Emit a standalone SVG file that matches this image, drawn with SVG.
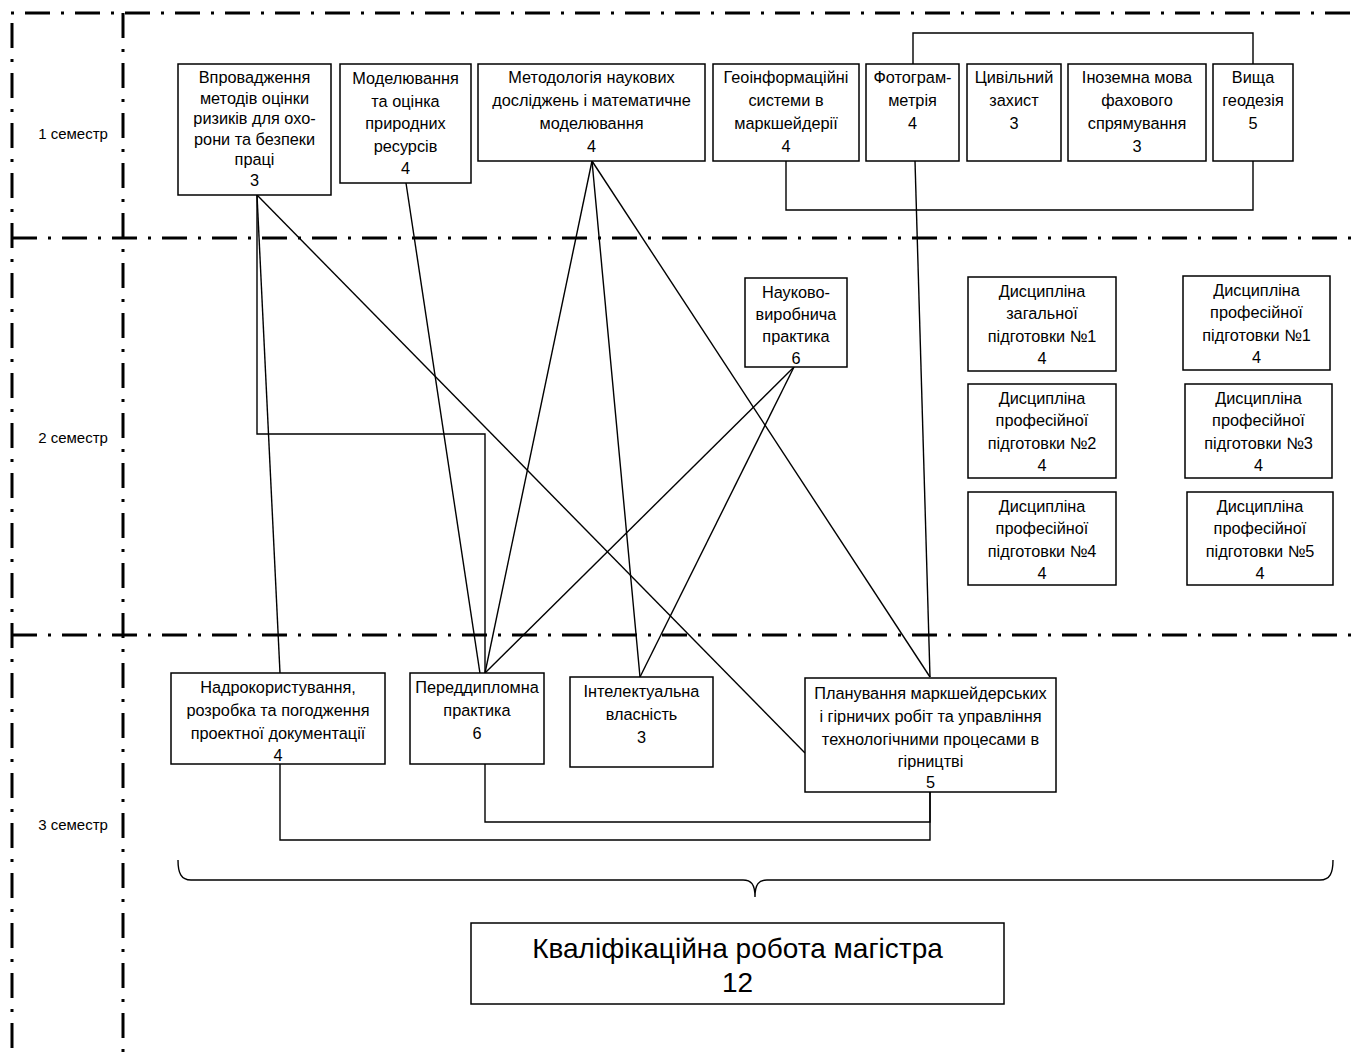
<svg xmlns="http://www.w3.org/2000/svg" width="1354" height="1052" viewBox="0 0 1354 1052">
<style>
.frame{fill:none;stroke:#000;stroke-width:3;stroke-dasharray:25 11 3 11}
.box{fill:#fff;stroke:#000;stroke-width:1.5}
.t{font-family:"Liberation Sans",Arial,sans-serif;font-size:16.3px;text-anchor:middle;dominant-baseline:central;fill:#000}
.sem{font-family:"Liberation Sans",Arial,sans-serif;font-size:15px;text-anchor:middle;dominant-baseline:central;fill:#000}
.big{font-family:"Liberation Sans",Arial,sans-serif;font-size:28px;text-anchor:middle;dominant-baseline:central;fill:#000}
.c{fill:none;stroke:#000;stroke-width:1.4}
</style>
<rect width="1354" height="1052" fill="#fff"/>
<g id="frame">
<line class="frame" x1="-25" y1="13" x2="1354" y2="13"/>
<line class="frame" x1="12" y1="23" x2="12" y2="1052"/>
<line class="frame" x1="123" y1="13" x2="123" y2="1052"/>
<line class="frame" x1="12" y1="238" x2="1354" y2="238"/>
<line class="frame" x1="12" y1="635" x2="1354" y2="635"/>
</g>
<g id="semesters">
<text class="sem" x="73" y="133">1 семестр</text>
<text class="sem" x="73" y="437">2 семестр</text>
<text class="sem" x="73" y="824">3 семестр</text>
</g>
<g id="connectors">
<line class="c" x1="257" y1="195" x2="280" y2="673"/>
<polyline class="c" points="257,195 257,434 485,434 485,673"/>
<line class="c" x1="257" y1="195" x2="805" y2="753"/>
<line class="c" x1="406" y1="183" x2="484" y2="700"/>
<line class="c" x1="592" y1="161" x2="485" y2="673"/>
<line class="c" x1="592" y1="161" x2="640" y2="677"/>
<line class="c" x1="592" y1="161" x2="930" y2="677"/>
<line class="c" x1="794" y1="367" x2="485" y2="673"/>
<line class="c" x1="794" y1="367" x2="640" y2="677"/>
<line class="c" x1="915" y1="161" x2="930" y2="677"/>
<polyline class="c" points="913,64 913,33 1253,33 1253,64"/>
<polyline class="c" points="786,161 786,210 1253,210 1253,161"/>
<polyline class="c" points="280,764 280,840 930,840 930,792"/>
<polyline class="c" points="485,764 485,822 930,822 930,792"/>
<path class="c" d="M178,860 C178,873 181,880 191,880 L743,880 C751,880 755,884 755,897 C755,884 759,880 767,880 L1320,880 C1330,880 1333,873 1333,860"/>
</g>
<g id="n1">
<rect class="box" x="178" y="64" width="153" height="131"/>
<text class="t" x="254.5" y="77">Впровадження</text>
<text class="t" x="254.5" y="97.6">методів оцінки</text>
<text class="t" x="254.5" y="118.2">ризиків для охо-</text>
<text class="t" x="254.5" y="138.8">рони та безпеки</text>
<text class="t" x="254.5" y="159.4">праці</text>
<text class="t" x="254.5" y="180">3</text>
</g>
<g id="n2">
<rect class="box" x="340" y="64" width="131" height="119"/>
<text class="t" x="405.5" y="78">Моделювання</text>
<text class="t" x="405.5" y="100.5">та оцінка</text>
<text class="t" x="405.5" y="123">природних</text>
<text class="t" x="405.5" y="145.5">ресурсів</text>
<text class="t" x="405.5" y="168">4</text>
</g>
<g id="n3">
<rect class="box" x="478" y="64" width="227" height="97"/>
<text class="t" x="591.5" y="77">Методологія наукових</text>
<text class="t" x="591.5" y="100">досліджень і математичне</text>
<text class="t" x="591.5" y="123">моделювання</text>
<text class="t" x="591.5" y="146">4</text>
</g>
<g id="n4">
<rect class="box" x="713" y="64" width="146" height="97"/>
<text class="t" x="786" y="77">Геоінформаційні</text>
<text class="t" x="786" y="100">системи в</text>
<text class="t" x="786" y="123">маркшейдерії</text>
<text class="t" x="786" y="146">4</text>
</g>
<g id="n5">
<rect class="box" x="866" y="64" width="93" height="97"/>
<text class="t" x="912.5" y="77">Фотограм-</text>
<text class="t" x="912.5" y="100">метрія</text>
<text class="t" x="912.5" y="123">4</text>
</g>
<g id="n6">
<rect class="box" x="967" y="64" width="94" height="97"/>
<text class="t" x="1014" y="77">Цивільний</text>
<text class="t" x="1014" y="100">захист</text>
<text class="t" x="1014" y="123">3</text>
</g>
<g id="n7">
<rect class="box" x="1068" y="64" width="138" height="97"/>
<text class="t" x="1137" y="77">Іноземна мова</text>
<text class="t" x="1137" y="100">фахового</text>
<text class="t" x="1137" y="123">спрямування</text>
<text class="t" x="1137" y="146">3</text>
</g>
<g id="n8">
<rect class="box" x="1213" y="64" width="80" height="97"/>
<text class="t" x="1253" y="77">Вища</text>
<text class="t" x="1253" y="100">геодезія</text>
<text class="t" x="1253" y="123">5</text>
</g>
<g id="n9">
<rect class="box" x="745" y="278" width="102" height="89"/>
<text class="t" x="796" y="292">Науково-</text>
<text class="t" x="796" y="314">виробнича</text>
<text class="t" x="796" y="336">практика</text>
<text class="t" x="796" y="358">6</text>
</g>
<g id="n10">
<rect class="box" x="968" y="277" width="148" height="94"/>
<text class="t" x="1042" y="291">Дисципліна</text>
<text class="t" x="1042" y="313">загальної</text>
<text class="t" x="1042" y="336">підготовки №1</text>
<text class="t" x="1042" y="358">4</text>
</g>
<g id="n11">
<rect class="box" x="1183" y="276" width="147" height="94"/>
<text class="t" x="1256.5" y="290">Дисципліна</text>
<text class="t" x="1256.5" y="312">професійної</text>
<text class="t" x="1256.5" y="335">підготовки №1</text>
<text class="t" x="1256.5" y="357">4</text>
</g>
<g id="n12">
<rect class="box" x="968" y="384" width="148" height="94"/>
<text class="t" x="1042" y="398">Дисципліна</text>
<text class="t" x="1042" y="420">професійної</text>
<text class="t" x="1042" y="443">підготовки №2</text>
<text class="t" x="1042" y="465">4</text>
</g>
<g id="n13">
<rect class="box" x="1185" y="384" width="147" height="94"/>
<text class="t" x="1258.5" y="398">Дисципліна</text>
<text class="t" x="1258.5" y="420">професійної</text>
<text class="t" x="1258.5" y="443">підготовки №3</text>
<text class="t" x="1258.5" y="465">4</text>
</g>
<g id="n14">
<rect class="box" x="968" y="492" width="148" height="93"/>
<text class="t" x="1042" y="506">Дисципліна</text>
<text class="t" x="1042" y="528">професійної</text>
<text class="t" x="1042" y="551">підготовки №4</text>
<text class="t" x="1042" y="573">4</text>
</g>
<g id="n15">
<rect class="box" x="1187" y="492" width="146" height="93"/>
<text class="t" x="1260" y="506">Дисципліна</text>
<text class="t" x="1260" y="528">професійної</text>
<text class="t" x="1260" y="551">підготовки №5</text>
<text class="t" x="1260" y="573">4</text>
</g>
<g id="n16">
<rect class="box" x="171" y="673" width="214" height="91"/>
<text class="t" x="278" y="687">Надрокористування,</text>
<text class="t" x="278" y="710">розробка та погодження</text>
<text class="t" x="278" y="733">проектної документації</text>
<text class="t" x="278" y="755">4</text>
</g>
<g id="n17">
<rect class="box" x="410" y="673" width="134" height="91"/>
<text class="t" x="477" y="687">Переддипломна</text>
<text class="t" x="477" y="710">практика</text>
<text class="t" x="477" y="733">6</text>
</g>
<g id="n18">
<rect class="box" x="570" y="677" width="143" height="90"/>
<text class="t" x="641.5" y="691">Інтелектуальна</text>
<text class="t" x="641.5" y="714">власність</text>
<text class="t" x="641.5" y="737">3</text>
</g>
<g id="n19">
<rect class="box" x="805" y="678" width="251" height="114"/>
<text class="t" x="930.5" y="693">Планування маркшейдерських</text>
<text class="t" x="930.5" y="716">і гірничих робіт та управління</text>
<text class="t" x="930.5" y="739">технологічними процесами в</text>
<text class="t" x="930.5" y="761">гірництві</text>
<text class="t" x="930.5" y="782">5</text>
</g>
<g id="n20">
<rect class="box" x="471" y="923" width="533" height="81"/>
<text class="big" x="737.5" y="948">Кваліфікаційна робота магістра</text>
<text class="big" x="737.5" y="982">12</text>
</g>
</svg>
